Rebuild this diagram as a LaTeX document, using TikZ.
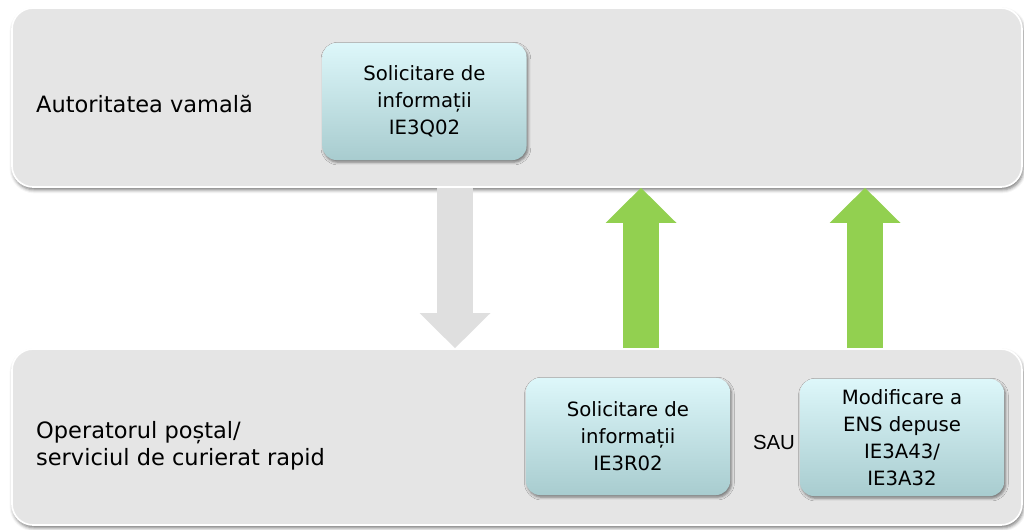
\documentclass[tikz,border=0pt]{standalone}
\usepackage{fontspec}
\setmainfont{DejaVu Sans}
\newfontfamily\saufont{Liberation Sans}
\usetikzlibrary{fit,shadows.blur,arrows.meta}

\begin{document}
\begin{tikzpicture}[x=0.025cm, y=-0.025cm, line width=0.7pt,
    panel/.style={draw=white, line width=1.2pt, fill=panelgray, rounded corners=15pt, inner sep=0pt,
      blur shadow={shadow xshift=0.8pt, shadow yshift=-2pt, shadow blur radius=2.5pt, shadow opacity=55}},
    paneltext/.style={anchor=west, align=left, font=\fontsize{16}{19.2}\selectfont},
    msgbox/.style={top color=boxtop, bottom color=boxbottom, rounded corners=10pt, inner sep=0pt,
      minimum width=5.1cm, minimum height=2.925cm, align=center, font=\fontsize{14}{19.2}\selectfont,
      blur shadow={shadow xshift=1pt, shadow yshift=-1.5pt, shadow blur radius=2pt, shadow opacity=50}},
    blockarrow/.style={line width=25.6pt, -{Triangle[length=25pt, width=50.5pt, line width=0pt]}}]
    \definecolor{panelgray}{HTML}{E5E5E5}
    \definecolor{boxtop}{HTML}{DDF7FA}
    \definecolor{boxbottom}{HTML}{A8CCCF}
    \definecolor{arrowgreen}{HTML}{92D050}
    \definecolor{arrowgray}{HTML}{DFDFDF}

    \useasboundingbox (0,0) rectangle (1024,530);

    % the two lanes
    \node[panel, fit={(12,8) (1022,187)}] (vama) {};
    \node[panel, fit={(12,349) (1022,525)}] (posta) {};
    \node[paneltext] (vamatext) at (31,104) {Autoritatea vamală};
    \node[paneltext] (postatext) at (31,446) {Operatorul poștal/\\serviciul de curierat rapid};

    % messages
    \node[msgbox] (q02) at (424.5,101.5) {\vspace*{7pt}Solicitare de\\informații\\IE3Q02};
    \node[msgbox] (r02) at (628,436.5) {\vspace*{7pt}Solicitare de\\informații\\IE3R02};
    \node[msgbox] (a43) at (902,437.5) {Modificare a\\ENS depuse\\IE3A43/\\IE3A32};
    \node[font=\saufont\fontsize{14.5}{17}\selectfont] (sau) at (774,442) {SAU};

    \coordinate (down) at (455,0);
    \coordinate (up1) at (641,0);
    \coordinate (up2) at (865,0);
    \draw[blockarrow, arrowgray] (down |- vama.south) -- (down |- posta.north);
    \draw[blockarrow, arrowgreen] (up1 |- posta.north) -- (up1 |- vama.south);
    \draw[blockarrow, arrowgreen] (up2 |- posta.north) -- (up2 |- vama.south);
\end{tikzpicture}
\end{document}
